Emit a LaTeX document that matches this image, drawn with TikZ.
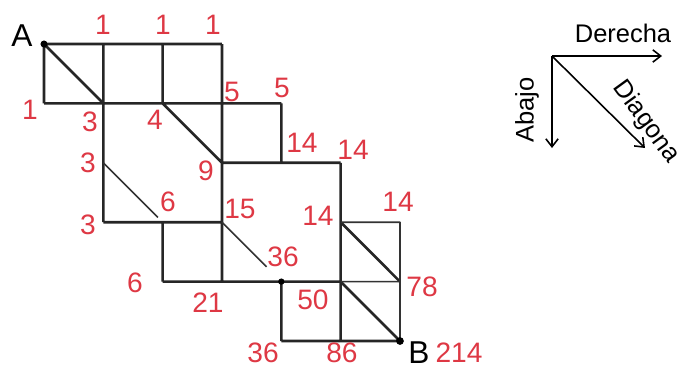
\documentclass[tikz,border=0pt]{standalone}
\usepackage{fontspec}
\setmainfont{Liberation Sans}
\usetikzlibrary{arrows.meta, calc}
\definecolor{numred}{RGB}{222,56,68}

\begin{document}
\begin{tikzpicture}[x=0.02cm, y=-0.02cm, line join=round,
    bold/.style={line width=1.5pt, black!85},
    fine/.style={line width=0.9pt, black!80},
    num/.style={text=numred, inner sep=0pt, font=\fontsize{16}{16}\selectfont},
    letter/.style={inner sep=0pt, font=\fontsize{18}{18}\selectfont},
    legend/.style={inner sep=0pt, font=\fontsize{14.5}{15}\selectfont},
    dir/.style={line width=0.9pt, -{Straight Barb[length=4.5pt, width=7pt]}}]
    \useasboundingbox (0,0) rectangle (686,370);

    % grid points p<col><row>
    \foreach \c in {0,...,6}
        \foreach \r in {0,...,5}
            \coordinate (p\c\r) at ({44+59.33*\c}, {44+59.4*\r});

    % the network
    \draw[bold] (p00) -- (p30)  (p01) -- (p41)  (p00) -- (p01)  (p10) -- (p13)
                (p20) -- (p21)  (p30) -- (p34)  (p00) -- (p11)  (p21) -- (p32)
                (p41) -- (p42)  (p32) -- (p52)  (p52) -- (p55)  (p13) -- (p33)
                (p23) -- (p24)  (p24) -- (p54)  (p44) -- (p45)  (p45) -- (p65)
                (p53) -- (p64)  (p54) -- (p65);
    \draw[fine] (p53) -- (p63) -- (p65)  (p54) -- (p64)
                (p12) -- ($(p12)!0.92!(p23)$)  (p33) -- ($(p33)!0.75!(p44)$);
    \fill (p00) circle[radius=2pt] (p44) circle[radius=1.8pt] (p65) circle[radius=2.2pt];

    \node[letter] (A) at (22,36) {A};
    \node[letter] (B) at (419,353) {B};

    % path counts
    \node[num] (t1) at (103,25) {1};
    \node[num] (t2) at (163,25) {1};
    \node[num] (t3) at (213,25) {1};
    \node[num] (l1) at (30,110) {1};
    \node[num] (c3a) at (90,122) {3};
    \node[num] (c4) at (155,120) {4};
    \node[num] (c5a) at (232,92) {5};
    \node[num] (c5b) at (282,88) {5};
    \node[num] (c14a) at (302,143) {14};
    \node[num] (c14b) at (353,150) {14};
    \node[num] (c9) at (206,171) {9};
    \node[num] (c3b) at (88,163) {3};
    \node[num] (c6a) at (168,202) {6};
    \node[num] (c3c) at (88,225) {3};
    \node[num] (c15) at (240,209) {15};
    \node[num] (c14c) at (318,216) {14};
    \node[num] (c14d) at (398,202) {14};
    \node[num] (c36a) at (283,257) {36};
    \node[num] (c6b) at (135,283) {6};
    \node[num] (c21) at (208,303) {21};
    \node[num] (c50) at (313,300) {50};
    \node[num] (c78) at (422,287) {78};
    \node[num] (c36b) at (263,353) {36};
    \node[num] (c86) at (342,353) {86};
    \node[num] (c214) at (459,353) {214};

    % legend
    \coordinate (o) at (552,56);
    \coordinate (der) at (662,56);
    \coordinate (aba) at (552,148);
    \coordinate (dia) at (645,148);
    \draw[dir] (o) -- (der);
    \draw[dir] (o) -- (aba);
    \draw[dir] (o) -- (dia);
    \node[legend] (lder) at (623,33) {Derecha};
    \node[legend, rotate=90] (laba) at (527,110) {Abajo};
    \node[legend, rotate=-54] (ldia) at (646,122) {Diagona};
\end{tikzpicture}
\end{document}
